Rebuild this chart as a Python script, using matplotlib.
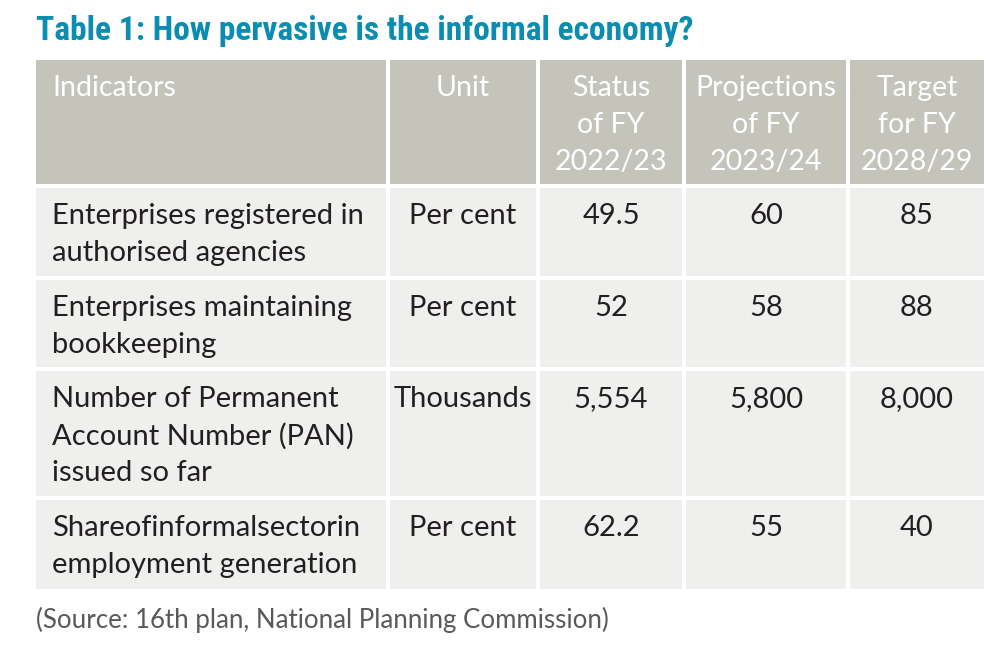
import matplotlib.pyplot as plt
from matplotlib.patches import Rectangle

# table content
title = "Table 1: How pervasive is the informal economy?"
source = "(Source: 16th plan, National Planning Commission)"
headers = [["Indicators"], ["Unit"], ["Status", "of FY", "2022/23"],
           ["Projections", "of FY", "2023/24"], ["Target", "for FY", "2028/29"]]
indicators = [["Enterprises registered in", "authorised agencies"],
              ["Enterprises maintaining", "bookkeeping"],
              ["Number of Permanent", "Account Number (PAN)", "issued so far"],
              ["Shareofinformalsectorin", "employment generation"]]
units = ["Per cent", "Per cent", "Thousands", "Per cent"]
status_2223 = ["49.5", "52", "5,554", "62.2"]
proj_2324 = ["60", "58", "5,800", "55"]
target_2829 = ["85", "88", "8,000", "40"]

# layout in pixels
col_edges = [(36, 386), (390, 536), (540, 682), (686, 846), (850, 984)]
head_box = (60, 184)
row_boxes = [(188, 276), (280, 367), (371, 496), (500, 589)]
line_h = 37

body_font = ["Lato", "DejaVu Sans"]
head_bg = "#c5c4bb"
body_bg = "#efefed"

fig = plt.figure(figsize=(9.98, 6.49), dpi=100)
ax = fig.add_axes([0, 0, 1, 1])
ax.set_xlim(0, 998)
ax.set_ylim(649, 0)
ax.axis("off")

ax.text(36, 31, title, fontsize=24, fontweight="bold", color="#0a8db0",
        family=["Roboto Condensed", "DejaVu Sans Condensed", "DejaVu Sans"],
        fontstretch="condensed", va="center", ha="left")

def cell_text(ci, y0, lines, color, size, dy):
    x0, x1 = col_edges[ci]
    if ci == 0:
        x, ha = x0 + 16, "left"
    else:
        x, ha = (x0 + x1) / 2, "center"
    for k, s in enumerate(lines):
        ax.text(x, y0 + dy + k * line_h, s, fontsize=size, color=color,
                family=body_font, ha=ha, va="center")

for ci, (x0, x1) in enumerate(col_edges):
    ax.add_patch(Rectangle((x0, head_box[0]), x1 - x0, head_box[1] - head_box[0],
                           facecolor=head_bg, edgecolor="none"))
    cell_text(ci, head_box[0], headers[ci], "white", 20.5, 28)

columns = [indicators, [[u] for u in units], [[v] for v in status_2223],
           [[v] for v in proj_2324], [[v] for v in target_2829]]
for ri, (y0, y1) in enumerate(row_boxes):
    for ci, (x0, x1) in enumerate(col_edges):
        ax.add_patch(Rectangle((x0, y0), x1 - x0, y1 - y0,
                               facecolor=body_bg, edgecolor="none"))
        cell_text(ci, y0, columns[ci][ri], "#231f20", 21, 28)

ax.text(36, 620, source, fontsize=18.6, color="#58595b", family=body_font,
        ha="left", va="center")

fig.savefig("out.png", dpi=100)
